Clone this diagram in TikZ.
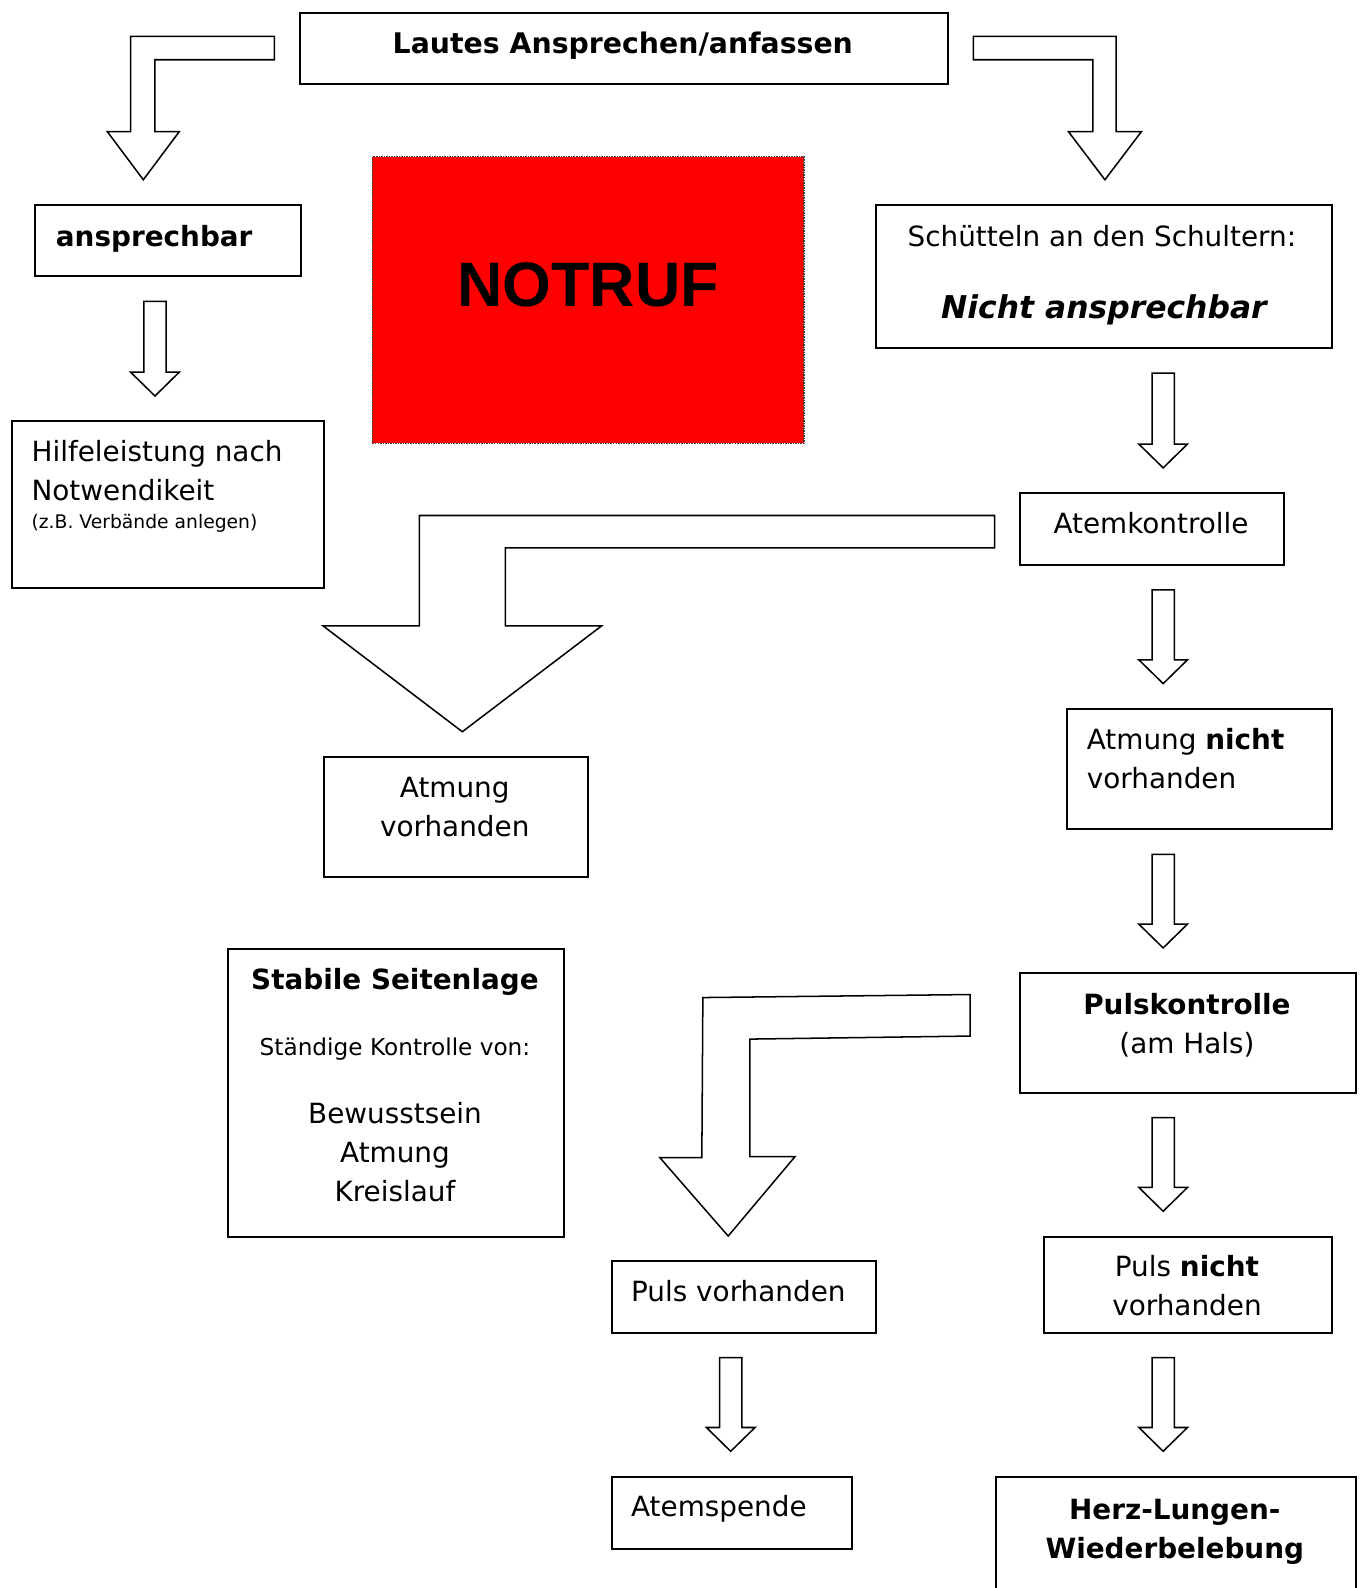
\documentclass[tikz,border=0pt]{standalone}
\usepackage{fontspec}
\setmainfont{DejaVu Sans}
\newfontfamily\notfont{Liberation Sans}
\usetikzlibrary{calc}
\definecolor{notrot}{HTML}{FF0000}
\newcommand{\fs}{\fontsize{27.5}{38.5}\selectfont}
\tikzset{
  box/.style={draw, line width=2pt, inner sep=0pt, anchor=north west},
  txt/.style={font=\fs, inner sep=0pt},
  blockarrow/.style={draw, fill=white, line width=1.5pt, line join=miter}
}
% straight block arrow: column, upper node, lower node
\newcommand{\blockdown}[3]{%
  \draw[blockarrow] ($(#1 |- #2.south)+(-11,23.5)$) -- ++(22,0)
    -- ($(#1 |- #3.north)+(11,-47.5)$) -- ++(13,0) -- ($(#1 |- #3.north)+(0,-24)$)
    -- ($(#1 |- #3.north)+(-24,-47.5)$) -- ++(13,0) -- cycle;}

\begin{document}
\begin{tikzpicture}[x=1pt,y=-1pt]
  \useasboundingbox (0,0) rectangle (1345,1568);
  \clip (0,0) rectangle (1345,1568);

  \coordinate (lcol) at (153,0);
  \coordinate (mcol) at (721.5,0);
  \coordinate (rcol) at (1148.5,0);

  \node[box, minimum width=640pt, minimum height=70pt]  (laut)    at (295,12)   {};
  \node[box, minimum width=262pt, minimum height=71pt]  (ansp)    at (34,201)   {};
  \node[box, minimum width=308pt, minimum height=165pt] (hilfe)   at (11,415)   {};
  \node[box, fill=notrot, draw=black!75, line width=1.5pt, dash pattern=on 1.5pt off 1pt,
        minimum width=426pt, minimum height=283pt]      (notruf)  at (367,154)  {};
  \node[box, minimum width=450pt, minimum height=142pt] (schuett) at (864,201)  {};
  \node[box, minimum width=261pt, minimum height=71pt]  (atemk)   at (1006,486) {};
  \node[box, minimum width=261pt, minimum height=119pt] (atmv)    at (319,746)  {};
  \node[box, minimum width=261pt, minimum height=119pt] (atmnv)   at (1053,699) {};
  \node[box, minimum width=332pt, minimum height=284pt] (stabil)  at (224,936)  {};
  \node[box, minimum width=332pt, minimum height=118pt] (pulsk)   at (1006,960) {};
  \node[box, minimum width=261pt, minimum height=71pt]  (pulsv)   at (603,1244) {};
  \node[box, minimum width=284pt, minimum height=95pt]  (pulsnv)  at (1030,1220) {};
  \node[box, minimum width=237pt, minimum height=71pt]  (atemsp)  at (603,1457) {};
  \node[box, minimum width=356pt, minimum height=140pt] (hlw)     at (982,1457) {};

  \node[txt, font=\fontsize{28}{38.5}\selectfont\bfseries, anchor=base] (lauttxt) at (615,52.6) {Lautes Ansprechen/anfassen};
  \node[txt, font=\fs\bfseries, anchor=base west] (ansptxt) at (55,242.9) {ansprechbar};
  \node[txt, anchor=base west, align=left] (hilfetxt) at (31,493.7) {Hilfeleistung nach\\Notwendikeit};
  \node[txt, font=\fontsize{18.5}{24}\selectfont, anchor=base west] (hilfesub) at (31,521.7) {(z.B. Verbände anlegen)};
  \node[txt, font=\notfont\bfseries\fontsize{62}{70}\selectfont, anchor=base] (notruftxt) at (580.5,302.8) {NOTRUF};
  \node[txt, anchor=base] (schtxt) at (1088,242.9) {Schütteln an den Schultern:};
  \node[txt, font=\fontsize{31}{38.5}\selectfont\bfseries\itshape, anchor=base] (nichttxt) at (1090,314.3) {Nicht ansprechbar};
  \node[txt, anchor=base] (atemktxt) at (1136.5,526.6) {Atemkontrolle};
  \node[txt, anchor=base, align=center] (atmvtxt) at (449,825.5) {Atmung\\vorhanden};
  \node[txt, anchor=base west, align=left] (atmnvtxt) at (1073,778.4) {Atmung \textbf{nicht}\\vorhanden};
  \node[txt, font=\fs\bfseries, anchor=base] (stabtitle) at (390,977.5) {Stabile Seitenlage};
  \node[txt, font=\fontsize{22.9}{30}\selectfont, anchor=base] (stabsub) at (390,1042.5) {Ständige Kontrolle von:};
  \node[txt, anchor=base, align=center] (stablist) at (390,1186.7) {Bewusstsein\\Atmung\\Kreislauf};
  \node[txt, anchor=base, align=center] (pulsktxt) at (1172,1040.3) {\textbf{Pulskontrolle}\\(am Hals)};
  \node[txt, anchor=base west] (pulsvtxt) at (623,1285) {Puls vorhanden};
  \node[txt, anchor=base, align=center] (pulsnvtxt) at (1172,1299.3) {Puls \textbf{nicht}\\vorhanden};
  \node[txt, anchor=base west] (atemsptxt) at (623,1497.2) {Atemspende};
  \node[txt, font=\fs\bfseries, anchor=base, align=center] (hlwtxt) at (1160,1538.4) {Herz-Lungen-\\Wiederbelebung};

  \draw[blockarrow] ($(laut.north west)+(-24,24)$) -| ++(-142,94) -- ++(-23,0) -- ++(35.5,47.5)
    -- ++(35.5,-47.5) -- ++(-24,0) |- ++(118,-71) -- cycle;
  \draw[blockarrow] ($(laut.north east)+(24,24)$) -| ++(141,94) -- ++(25,0) -- ++(-36,47.5)
    -- ++(-36,-47.5) -- ++(24,0) |- ++(-118,-71) -- cycle;
  \draw[blockarrow] ($(atemk.north west)+(-24,23)$) -| ++(-568,109) -- ++(-95,0) -- ++(137.5,104.5)
    -- ++(137.5,-104.5) -- ++(-95,0) |- ++(483,-77) -- cycle;
  \draw[blockarrow] ($(pulsk.north west)+(-48,22)$) -- ++(-264,3) -- ++(-1,158) -- ++(-41.5,0)
    -- ++(67.5,77.5) -- ++(66,-78.5) -- ++(-44.5,0) -- ++(0,-116) -- ++(217.5,-3) -- cycle;

  \blockdown{lcol}{ansp}{hilfe}
  \blockdown{rcol}{schuett}{atemk}
  \blockdown{rcol}{atemk}{atmnv}
  \blockdown{rcol}{atmnv}{pulsk}
  \blockdown{rcol}{pulsk}{pulsnv}
  \blockdown{rcol}{pulsnv}{hlw}
  \blockdown{mcol}{pulsv}{atemsp}
\end{tikzpicture}
\end{document}
